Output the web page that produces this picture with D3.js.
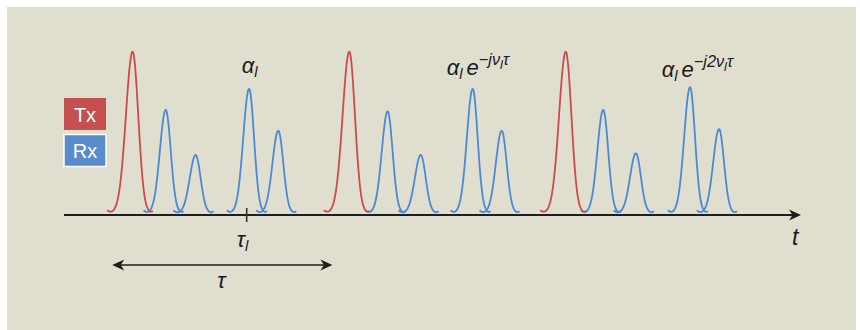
<!DOCTYPE html>
<html>
<head>
<meta charset="utf-8">
<script src="https://cdn.jsdelivr.net/npm/d3@7"></script>
<style>
  body { margin: 0; background: #fff; }
  text { font-family: "Liberation Sans", Arial, sans-serif; }
</style>
</head>
<body>
<div id="chart"></div>
<script>
// pulse data, time in arbitrary units (tau = 10)
const txTimes = [3.17, 13.18, 23.18];
const txAmps = [1, 1, 1];
const rxTimes = [4.70, 6.08, 8.55, 9.90, 14.95, 16.48, 18.88, 20.22, 24.91, 26.42, 28.92, 30.26];
const rxAmps = [0.64, 0.36, 0.77, 0.51, 0.63, 0.36, 0.77, 0.51, 0.64, 0.37, 0.78, 0.52];
const delayTick = 8.44;          // tau_l
const periodSpan = [2.23, 12.4]; // tau
const legendLabels = ['Tx', 'Rx'];
const gainTimes = [8.21, 17.68, 27.61];
const gainLabels = [
  [{ s: 'α' }, { s: 'l', sub: 1 }],
  [{ s: 'α' }, { s: 'l', sub: 1 }, { s: 'e', gap: 1 }, { s: '−jν', sup: 1 }, { s: 'l', supsub: 1 }, { s: 'τ', sup: 1 }],
  [{ s: 'α' }, { s: 'l', sub: 1 }, { s: 'e', gap: 1 }, { s: '−j2ν', sup: 1 }, { s: 'l', supsub: 1 }, { s: 'τ', sup: 1 }]
];

const width = 860, height = 330;
const red = '#cd4a4a', blue = '#4a89d5';

const svg = d3.select('#chart').append('svg').attr('width', width).attr('height', height);
svg.append('rect').attr('x', 7).attr('y', 7).attr('width', 849).attr('height', 323).attr('fill', '#e0dfcf');

const x = d3.scaleLinear().domain([0, 34]).range([64, 800]);
const y = d3.scaleLinear().domain([0, 1]).range([213, 51.7]);

// split gaussian with small hooked feet
function pulse(c, a, sL, sR) {
  const pts = [];
  for (let u = -3.8; u <= 3.6; u += 0.05) {
    const g = Math.exp(-u * u / 2);
    const e = Math.abs(u) > 2.8 ? Math.pow((Math.abs(u) - 2.8) / 1.0, 2) : 0;
    pts.push({ t: c + u * (u < 0 ? sL : sR), v: a * g, hook: e * 2.6 });
  }
  return pts;
}
const line = d3.line().x(d => x(d.t)).y(d => y(d.v) - d.hook).curve(d3.curveBasis);

const g = svg.append('g');
g.selectAll('.rx').data(rxTimes).enter().append('path')
  .attr('class', 'rx')
  .attr('d', (d, i) => line(pulse(d, rxAmps[i], 0.27, 0.23)))
  .attr('fill', 'none').attr('stroke', blue).attr('stroke-width', 1.8);
g.selectAll('.tx').data(txTimes).enter().append('path')
  .attr('class', 'tx')
  .attr('d', (d, i) => line(pulse(d, txAmps[i], 0.31, 0.26)))
  .attr('fill', 'none').attr('stroke', red).attr('stroke-width', 1.8);

function arrowHead(px, py, dir) {
  return `M${px},${py}L${px - dir * 12},${py - 5.5}L${px - dir * 8.5},${py}L${px - dir * 12},${py + 5.5}Z`;
}

// time axis
const axisY = 215;
svg.append('line').attr('x1', x(0)).attr('x2', x(34) - 6).attr('y1', axisY).attr('y2', axisY)
  .attr('stroke', '#1e1e1e').attr('stroke-width', 2);
svg.append('path').attr('d', arrowHead(x(34) + 1, axisY, 1)).attr('fill', '#1e1e1e');
svg.append('line').attr('x1', x(delayTick)).attr('x2', x(delayTick)).attr('y1', 208).attr('y2', 222)
  .attr('stroke', '#333').attr('stroke-width', 1.6);

// tau span
const spanY = 265;
svg.append('line').attr('x1', x(periodSpan[0]) + 6).attr('x2', x(periodSpan[1]) - 6)
  .attr('y1', spanY).attr('y2', spanY).attr('stroke', '#1e1e1e').attr('stroke-width', 1.6);
svg.append('path').attr('d', arrowHead(x(periodSpan[0]), spanY, -1)).attr('fill', '#1e1e1e');
svg.append('path').attr('d', arrowHead(x(periodSpan[1]), spanY, 1)).attr('fill', '#1e1e1e');

function mathText(px, py, parts, size) {
  const t = svg.append('text').attr('x', px).attr('y', py)
    .attr('font-size', size).attr('font-style', 'italic').attr('fill', '#1a1a1a');
  let level = 0;
  parts.forEach(p => {
    let target = 0, fs = size;
    if (p.sub) { target = 4; fs = size * 0.68; }
    if (p.sup) { target = -10; fs = size * 0.74; }
    if (p.supsub) { target = -6; fs = size * 0.58; }
    t.append('tspan').attr('dy', target - level).attr('dx', p.gap ? 4 : 0)
      .attr('font-size', fs).text(p.s);
    level = target;
  });
  return t;
}

const gainY = [73, 74.5, 77];
gainLabels.forEach((parts, i) => mathText(x(gainTimes[i]), gainY[i], parts, 22));
mathText(x(delayTick) - 10, 247, [{ s: 'τ' }, { s: 'l', sub: 1 }], 22);
mathText(x(periodSpan[0]) + 105, 288, [{ s: 'τ' }], 22);
mathText(792, 245, [{ s: 't' }], 23);

// legend
const legColors = ['#c4514f', '#5a8bcb'];
const leg = svg.selectAll('.leg').data(legendLabels).enter().append('g')
  .attr('transform', (d, i) => `translate(64, ${98 + i * 36.5})`);
leg.append('rect').attr('width', 42).attr('height', 32)
  .attr('fill', (d, i) => legColors[i])
  .attr('stroke', (d, i) => i ? '#fff' : 'none').attr('stroke-width', 1.5);
leg.append('text').attr('x', 21).attr('y', 23.5).attr('text-anchor', 'middle')
  .attr('font-size', 20).attr('fill', '#fff').text(d => d);
</script>
</body>
</html>
